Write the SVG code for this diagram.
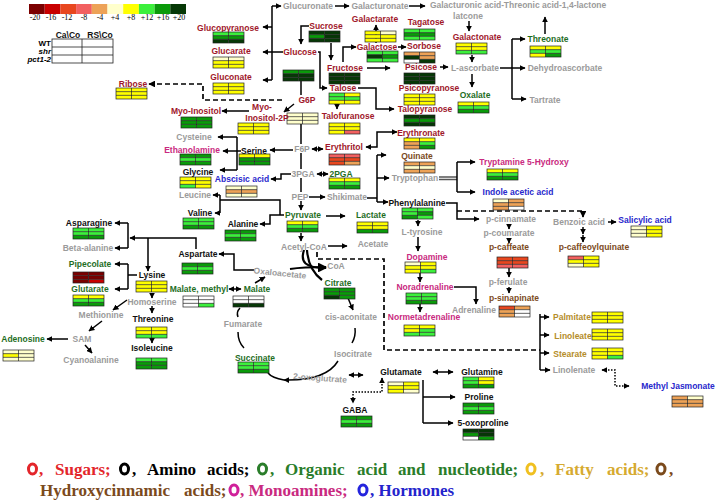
<svg xmlns="http://www.w3.org/2000/svg" width="716" height="501" viewBox="0 0 716 501">
<style>
.t{font-family:"Liberation Sans",Arial,Helvetica,sans-serif;font-size:8.5px;font-weight:bold;text-anchor:middle}
.s{fill:#a0172b}.gy{fill:#9b9b9b}.o{fill:#1f6e1f}.a{fill:#111}.m{fill:#c92a80}.h{fill:#2828cc}.b{fill:#7b4a1c}.f{fill:#b58d2a}
.kdr{fill:#7b0000}.kr{fill:#c80000}.kor{fill:#e8471f}.ksr{fill:#f26060}.ko{fill:#eda257}.kc{fill:#ffffcc}.ky{fill:#ffff00}.klg{fill:#3cf03c}.kg{fill:#0a9a0a}.kdg{fill:#063806}.kw{fill:#ffffff}
.ln{fill:none;stroke:#000;stroke-width:1.5}
.ar{marker-end:url(#ah)}
.ar2{marker-start:url(#ah);marker-end:url(#ah)}
.ds{stroke-dasharray:5 3;stroke-width:1.7}
.dt{stroke-dasharray:1.5 1.5}
.cv{stroke-width:2.2}
.lg{font-family:"Liberation Serif","Times New Roman",serif;font-size:17px;font-weight:bold}
.rg{fill:none;stroke-width:3}
.sc{font-family:"Liberation Serif","Times New Roman",serif;font-size:8px;text-anchor:middle;fill:#000}
.rl{font-family:"Liberation Sans",Arial,sans-serif;font-size:8px;font-weight:bold;text-anchor:end}
</style>
<defs>
<marker id="ah" viewBox="0 0 10 10" refX="9" refY="5" markerWidth="4" markerHeight="4" orient="auto-start-reverse"><path d="M0,0L10,5L0,10z" fill="#000"/></marker>
<rect id="c1" x="0" y="0" width="15.5" height="3.67"/>
<rect id="c2" x="15.5" y="0" width="15.5" height="3.67"/>
<rect id="c3" x="0" y="3.67" width="15.5" height="3.67"/>
<rect id="c4" x="15.5" y="3.67" width="15.5" height="3.67"/>
<rect id="c5" x="0" y="7.33" width="15.5" height="3.67"/>
<rect id="c6" x="15.5" y="7.33" width="15.5" height="3.67"/>
<g id="fr" fill="none" stroke="#222" stroke-width="0.7"><rect width="31" height="11"/><path d="M15.5,0V11M0,3.67H31M0,7.33H31"/></g>
</defs>
<rect width="716" height="501" fill="#fff"/>

<g id="scale">
<rect x="29" y="4" width="15.7" height="10" class="kdr"/>
<rect x="44.7" y="4" width="15.7" height="10" class="kr"/>
<rect x="60.4" y="4" width="15.7" height="10" class="kor"/>
<rect x="76.1" y="4" width="15.7" height="10" class="ksr"/>
<rect x="91.8" y="4" width="15.7" height="10" class="ko"/>
<rect x="107.5" y="4" width="15.7" height="10" class="kc"/>
<rect x="123.2" y="4" width="15.7" height="10" class="ky"/>
<rect x="138.9" y="4" width="15.7" height="10" class="klg"/>
<rect x="154.6" y="4" width="15.7" height="10" class="kg"/>
<rect x="170.3" y="4" width="15.7" height="10" class="kdg"/>
<text class="sc" x="35" y="20">-20</text><text class="sc" x="51" y="20">-16</text><text class="sc" x="67" y="20">-12</text><text class="sc" x="84" y="20">-8</text><text class="sc" x="100" y="20">-4</text><text class="sc" x="115" y="20">+4</text><text class="sc" x="131" y="20">+8</text><text class="sc" x="147" y="20">+12</text><text class="sc" x="163" y="20">+16</text><text class="sc" x="179" y="20">+20</text>
</g>

<g id="legend-table">
<text class="t a" x="68" y="37.5">Ca\Co</text>
<text class="t a" x="100" y="37.5">RS\Co</text>
<rect x="52" y="39" width="61" height="24" fill="none" stroke="#222" stroke-width="0.8"/>
<path d="M82,39V63M52,47H113M52,55H113" stroke="#222" stroke-width="0.8" fill="none"/>
<text class="rl" x="51" y="46">WT</text>
<text class="rl" x="51" y="54" font-style="italic">shr</text>
<text class="rl" x="51" y="62" font-style="italic">pct1-2</text>
</g>

<g id="connectors">
<path class="ln" d="M272,6V80M283,52H272"/>
<path class="ln ar" d="M272,6H281"/>
<path class="ln ar" d="M272,27H263"/>
<path class="ln ar" d="M272,52H263"/>
<path class="ln ar" d="M272,80H263"/>
<path class="ln ar" d="M335,6H349"/>
<path class="ln ar" d="M409,6H425"/>
<path class="ln ar" d="M469,21V31"/>
<path class="ln ar" d="M472,55V62"/>
<path class="ln ar" d="M472,74V87"/>
<path class="ln ar" d="M545,34V17"/>
<path class="ln" d="M500,68H512M512,39V99"/>
<path class="ln ar" d="M512,39H525"/>
<path class="ln ar" d="M512,68H525"/>
<path class="ln ar" d="M512,99H526"/>
<path class="ln ar" d="M309,26H301V44"/>
<path class="ln ar" d="M331,43V60"/>
<path class="ln ar" d="M318,52H320V88H327"/>
<path class="ln ar" d="M343,62V47H356"/>
<path class="ln ar" d="M376,43V25"/>
<path class="ln ar" d="M398,47H406"/>
<path class="ln ar" d="M367,68H390"/>
<path class="ln ar" d="M440,67H448"/>
<path class="ln ar" d="M337,103V109"/>
<path class="ln ar" d="M358,88H376V109H394"/>
<path class="ln" d="M301,80V95"/>
<path class="ln ds ar" d="M282,100H203V84H149"/>
<path class="ln ar" d="M294,104L284,112"/>
<path class="ln ar" d="M249,111H222"/>
<path class="ln" d="M301,123V144"/>
<path class="ln ar" d="M293,150H270"/>
<path class="ln" d="M241,151H237M237,137V170"/>
<path class="ln ar" d="M237,137H218"/>
<path class="ln ar" d="M237,151H223"/>
<path class="ln ar" d="M237,170H220"/>
<path class="ln ar2" d="M312,149H323"/>
<path class="ln ar2" d="M366,147H377V132H397"/>
<path class="ln" d="M301,153V169"/>
<path class="ln ar" d="M291,174H281V179H271"/>
<path class="ln ar2" d="M317,174H328"/>
<path class="ln" d="M301,178V192"/>
<path class="ln ar" d="M309,197H325"/>
<path class="ln" d="M367,198H377M377,155V202"/>
<path class="ln ar" d="M377,155H386"/>
<path class="ln ar" d="M377,178H389"/>
<path class="ln ar" d="M377,202H388"/>
<path d="M439,177H457M439,179.5H457" stroke="#555" stroke-width="1.3" fill="none"/>
<path class="ln" d="M457,162V192"/>
<path class="ln ar" d="M457,162H475"/>
<path class="ln ar" d="M457,192H475"/>
<path class="ln ar" d="M446,203H457V219H479"/>
<path class="ln ds ar" d="M457,211H583V217"/>
<path class="ln ar" d="M509,224V229"/>
<path class="ln ar" d="M509,238V243"/>
<path class="ln ar" d="M509,268V277"/>
<path class="ln ar" d="M509,287V293"/>
<path class="ln ar" d="M608,222H616"/>
<path class="ln ar" d="M583,227V234"/>
<path class="ln ar" d="M583,235V242"/>
<path class="ln ar" d="M418,220V226"/>
<path class="ln ar" d="M418,237V251"/>
<path class="ln ar" d="M420,273V282"/>
<path class="ln ar" d="M420,304V312"/>
<path class="ln ar" d="M454,287H476V304"/>
<path class="ln ar" d="M301,201V210"/>
<path class="ln ar" d="M326,216H345"/>
<path class="ln ar" d="M284,215H270V224H260"/>
<path class="ln" d="M280,215V200H220M220,195V213"/>
<path class="ln ar" d="M220,195H213"/>
<path class="ln ar" d="M220,213H215"/>
<path class="ln ar" d="M301,233V241"/>
<path class="ln ar" d="M328,246H347"/>
<path class="ln ds" d="M317,252V259H384V350H540"/>
<path class="ln" d="M540,314V370"/>
<path class="ln ar" d="M540,317H549"/>
<path class="ln ar" d="M540,335H549"/>
<path class="ln ar" d="M540,353H549"/>
<path class="ln ar" d="M540,370H550"/>
<path class="ln dt ar2" d="M602,370H615V386H629"/>
<path class="ln ar" d="M196,249V238H130"/>
<path class="ln ar" d="M148,238V271"/>
<path class="ln" d="M128,223V248"/>
<path class="ln ar" d="M128,223H115"/>
<path class="ln ar" d="M128,248H115"/>
<path class="ln" d="M137,275H128M128,264V289"/>
<path class="ln ar" d="M128,264H115"/>
<path class="ln ar" d="M128,289H115"/>
<path class="ln ar" d="M152,293V298"/>
<path class="ln ar" d="M152,306V313"/>
<path class="ln ar" d="M152,338V343"/>
<path class="ln ar" d="M127,300L113,310"/>
<path class="ln ar" d="M102,321L89,331"/>
<path class="ln ar" d="M68,339H47"/>
<path class="ln ar" d="M85,345L92,353"/>
<path class="ln ar" d="M254,270H234V254H219"/>
<path class="ln ar2" d="M229,289H241"/>
<path class="ln ar" d="M255,283L265,277"/>
<path class="ln" d="M240,308Q236,312 238,317"/>
<path class="ln" d="M238,332Q238,342 244,348"/>
<path class="ln cv ar" d="M304,250C300,262 305,268 326,268"/>
<path class="ln cv" d="M307,250C308,265 314,274 322,280"/>
<path class="ln cv ar" d="M290,269C303,267 313,267 326,267"/>
<path class="ln ar" d="M348,298L353,310"/>
<path class="ln" d="M355,328Q356,336 352,343"/>
<path class="ln ar" d="M338,361Q326,381 284,380"/>
<path class="ln" d="M284,380Q272,378 268,373"/>
<path class="ln ar2" d="M349,375H363"/>
<path class="ln ar2" d="M433,372H453"/>
<path class="ln" d="M423,380V423"/>
<path class="ln ar" d="M423,397H455"/>
<path class="ln ar" d="M423,423H453"/>
<path class="ln dt ar2" d="M382,378V392H353V403"/>
</g>

<g id="n-glucopyranose"><text class="t s" x="228" y="31">Glucopyranose</text><g transform="translate(213,32)"><use href="#c1" class="klg"/><use href="#c2" class="klg"/><use href="#c3" class="kg"/><use href="#c4" class="kg"/><use href="#c5" class="kdg"/><use href="#c6" class="kdg"/><use href="#fr"/></g></g>
<g id="n-glucarate"><text class="t s" x="231" y="54">Glucarate</text><g transform="translate(213,57)"><use href="#c1" class="kc"/><use href="#c2" class="kc"/><use href="#c3" class="ky"/><use href="#c4" class="ky"/><use href="#c5" class="ky"/><use href="#c6" class="ky"/><use href="#fr"/></g></g>
<g id="n-gluconate"><text class="t s" x="231" y="80">Gluconate</text><g transform="translate(213,83)"><use href="#c1" class="ky"/><use href="#c2" class="ky"/><use href="#c3" class="ky"/><use href="#c4" class="ky"/><use href="#c5" class="ky"/><use href="#c6" class="ky"/><use href="#fr"/></g></g>
<g id="n-ribose"><text class="t s" x="133" y="87">Ribose</text><g transform="translate(116,88)"><use href="#c1" class="ky"/><use href="#c2" class="ky"/><use href="#c3" class="ky"/><use href="#c4" class="ky"/><use href="#c5" class="ky"/><use href="#c6" class="ky"/><use href="#fr"/></g></g>
<g id="n-myoinositol"><text class="t s" x="196" y="114">Myo-Inositol</text><g transform="translate(181,117)"><use href="#c1" class="kg"/><use href="#c2" class="kg"/><use href="#c3" class="kg"/><use href="#c4" class="kg"/><use href="#c5" class="kg"/><use href="#c6" class="kg"/><use href="#fr"/></g></g>
<g id="n-sucrose"><text class="t s" x="326" y="29">Sucrose</text><g transform="translate(309,31)"><use href="#c1" class="kdg"/><use href="#c2" class="kdg"/><use href="#c3" class="kg"/><use href="#c4" class="kdg"/><use href="#c5" class="kdg"/><use href="#c6" class="kdg"/><use href="#fr"/></g></g>
<g id="n-glucose"><text class="t s" x="300" y="55">Glucose</text><g transform="translate(283,70)"><use href="#c1" class="kg"/><use href="#c2" class="kg"/><use href="#c3" class="kdg"/><use href="#c4" class="kdg"/><use href="#c5" class="kdg"/><use href="#c6" class="kdg"/><use href="#fr"/></g></g>
<g id="n-fructose"><text class="t s" x="345" y="71">Fructose</text><g transform="translate(329,73)"><use href="#c1" class="kdg"/><use href="#c2" class="kdg"/><use href="#c3" class="kdg"/><use href="#c4" class="kdg"/><use href="#c5" class="kdg"/><use href="#c6" class="kdg"/><use href="#fr"/></g></g>
<g id="n-galactarate"><text class="t s" x="375" y="22">Galactarate</text><g transform="translate(365,31)"><use href="#c1" class="ky"/><use href="#c2" class="kc"/><use href="#c3" class="ky"/><use href="#c4" class="ky"/><use href="#c5" class="ky"/><use href="#c6" class="ky"/><use href="#fr"/></g></g>
<g id="n-tagatose"><text class="t s" x="426" y="25">Tagatose</text><g transform="translate(404,29)"><use href="#c1" class="klg"/><use href="#c2" class="klg"/><use href="#c3" class="kg"/><use href="#c4" class="kg"/><use href="#c5" class="klg"/><use href="#c6" class="klg"/><use href="#fr"/></g></g>
<g id="n-galactose"><text class="t s" x="377" y="50">Galactose</text><g transform="translate(367,51)"><use href="#c1" class="klg"/><use href="#c2" class="klg"/><use href="#c3" class="kdg"/><use href="#c4" class="kg"/><use href="#c5" class="klg"/><use href="#c6" class="klg"/><use href="#fr"/></g></g>
<g id="n-sorbose"><text class="t s" x="424" y="49">Sorbose</text><g transform="translate(404,52)"><use href="#c1" class="ko"/><use href="#c2" class="ko"/><use href="#c3" class="kdg"/><use href="#c4" class="ko"/><use href="#c5" class="kw"/><use href="#c6" class="kdg"/><use href="#fr"/></g></g>
<g id="n-psicose"><text class="t s" x="421" y="70">Psicose</text><g transform="translate(404,73)"><use href="#c1" class="kdg"/><use href="#c2" class="kdg"/><use href="#c3" class="kdg"/><use href="#c4" class="kdg"/><use href="#c5" class="kdg"/><use href="#c6" class="kdg"/><use href="#fr"/></g></g>
<g id="n-psicopyranose"><text class="t s" x="429" y="91">Psicopyranose</text><g transform="translate(404,94)"><use href="#c1" class="ky"/><use href="#c2" class="ky"/><use href="#c3" class="ky"/><use href="#c4" class="ky"/><use href="#c5" class="ky"/><use href="#c6" class="ky"/><use href="#fr"/></g></g>
<g id="n-talose"><text class="t s" x="343" y="91">Talose</text><g transform="translate(329,93)"><use href="#c1" class="klg"/><use href="#c2" class="ky"/><use href="#c3" class="klg"/><use href="#c4" class="klg"/><use href="#c5" class="ky"/><use href="#c6" class="ky"/><use href="#fr"/></g></g>
<g id="n-talofuranose"><text class="t s" x="348" y="119">Talofuranose</text><g transform="translate(329,123)"><use href="#c1" class="ky"/><use href="#c2" class="ky"/><use href="#c3" class="ky"/><use href="#c4" class="ky"/><use href="#c5" class="ky"/><use href="#c6" class="ksr"/><use href="#fr"/></g></g>
<g id="n-talopyranose"><text class="t s" x="425" y="112">Talopyranose</text><g transform="translate(404,115)"><use href="#c1" class="kdg"/><use href="#c2" class="kdg"/><use href="#c3" class="kg"/><use href="#c4" class="kg"/><use href="#c5" class="kdg"/><use href="#c6" class="kdg"/><use href="#fr"/></g></g>
<g id="n-g6p"><text class="t s" x="307" y="103">G6P</text><g transform="translate(287,113)"><use href="#c1" class="kc"/><use href="#c2" class="kc"/><use href="#c3" class="kc"/><use href="#c4" class="kc"/><use href="#c5" class="kc"/><use href="#c6" class="kc"/><use href="#fr"/></g></g>
<g id="n-myoinositol2p"><text class="t s" x="262" y="110">Myo-</text><text class="t s" x="267" y="121">Inositol-2P</text><g transform="translate(238,123)"><use href="#c1" class="ky"/><use href="#c2" class="ky"/><use href="#c3" class="ky"/><use href="#c4" class="ky"/><use href="#c5" class="ky"/><use href="#c6" class="ky"/><use href="#fr"/></g></g>
<g id="n-glucuronate"><text class="t gy" x="308" y="9">Glucuronate</text></g>
<g id="n-galacturonate"><text class="t gy" x="380" y="9">Galacturonate</text></g>
<g id="n-galacturonic"><text class="t gy" x="467" y="8">Galacturonic acid-</text><text class="t gy" x="468" y="19">latcone</text></g>
<g id="n-threoniclactone"><text class="t gy" x="555" y="8">Threonic acid-1,4-lactone</text></g>
<g id="n-galactonate"><text class="t s" x="477" y="40">Galactonate</text><g transform="translate(456,43)"><use href="#c1" class="ky"/><use href="#c2" class="ky"/><use href="#c3" class="ky"/><use href="#c4" class="ky"/><use href="#c5" class="klg"/><use href="#c6" class="klg"/><use href="#fr"/></g></g>
<g id="n-lascorbate"><text class="t gy" x="475" y="71">L-ascorbate</text></g>
<g id="n-oxalate"><text class="t o" x="475" y="98">Oxalate</text><g transform="translate(458,102)"><use href="#c1" class="ky"/><use href="#c2" class="ky"/><use href="#c3" class="klg"/><use href="#c4" class="klg"/><use href="#c5" class="kg"/><use href="#c6" class="kg"/><use href="#fr"/></g></g>
<g id="n-threonate"><text class="t o" x="548" y="42">Threonate</text><g transform="translate(530,46)"><use href="#c1" class="ky"/><use href="#c2" class="ky"/><use href="#c3" class="klg"/><use href="#c4" class="klg"/><use href="#c5" class="ky"/><use href="#c6" class="kg"/><use href="#fr"/></g></g>
<g id="n-dehydroascorbate"><text class="t gy" x="565" y="71">Dehydroascorbate</text></g>
<g id="n-tartrate"><text class="t gy" x="545" y="103">Tartrate</text></g>
<g id="n-cysteine"><text class="t gy" x="194" y="140">Cysteine</text></g>
<g id="n-f6p"><text class="t gy" x="302" y="152">F6P</text></g>
<g id="n-3pga"><text class="t gy" x="303" y="177">3PGA</text></g>
<g id="n-pep"><text class="t gy" x="300" y="200">PEP</text></g>
<g id="n-shikimate"><text class="t gy" x="347" y="200">Shikimate</text></g>
<g id="n-tryptophan"><text class="t gy" x="415" y="181">Tryptophan</text></g>
<g id="n-leucine"><text class="t gy" x="195" y="198">Leucine</text></g>
<g id="n-betaalanine"><text class="t gy" x="88" y="251">Beta-alanine</text></g>
<g id="n-ltyrosine"><text class="t gy" x="422" y="235">L-tyrosine</text></g>
<g id="n-acetylcoa"><text class="t gy" x="304" y="250">Acetyl-CoA</text></g>
<g id="n-acetate"><text class="t gy" x="373" y="247">Acetate</text></g>
<g id="n-pcinnamate"><text class="t gy" x="511" y="222">p-cinnamate</text></g>
<g id="n-pcoumarate"><text class="t gy" x="509" y="236">p-coumarate</text></g>
<g id="n-benzoic"><text class="t gy" x="579" y="225">Benzoic acid</text></g>
<g id="n-pferulate"><text class="t gy" x="508" y="285">p-ferulate</text></g>
<g id="n-adrenaline"><text class="t gy" x="474" y="313">Adrenaline</text></g>
<g id="n-oxaloacetate"><text class="t gy" x="280" y="276" transform="rotate(6,280,273)">Oxaloacetate</text></g>
<g id="n-coa"><text class="t gy" x="336" y="269">CoA</text></g>
<g id="n-homoserine"><text class="t gy" x="152" y="305">Homoserine</text></g>
<g id="n-methionine"><text class="t gy" x="101" y="318">Methionine</text></g>
<g id="n-sam"><text class="t gy" x="82" y="342">SAM</text></g>
<g id="n-cyanoalanine"><text class="t gy" x="91" y="363">Cyanoalanine</text></g>
<g id="n-fumarate"><text class="t gy" x="243" y="327">Fumarate</text></g>
<g id="n-cisaconitate"><text class="t gy" x="351" y="320">cis-aconitate</text></g>
<g id="n-isocitrate"><text class="t gy" x="353" y="357">Isocitrate</text></g>
<g id="n-oxoglutrate"><text class="t gy" x="320" y="381" transform="rotate(4,320,378)">2-oxoglutrate</text></g>
<g id="n-linolenate"><text class="t gy" x="574" y="373">Linolenate</text></g>
<g id="n-serine"><text class="t a" x="254" y="154">Serine</text><g transform="translate(239,154)"><use href="#c1" class="ky"/><use href="#c2" class="ky"/><use href="#c3" class="kg"/><use href="#c4" class="kg"/><use href="#c5" class="kg"/><use href="#c6" class="kg"/><use href="#fr"/></g></g>
<g id="n-erythritol"><text class="t s" x="344" y="150">Erythritol</text><g transform="translate(329,154)"><use href="#c1" class="ksr"/><use href="#c2" class="ksr"/><use href="#c3" class="kor"/><use href="#c4" class="kor"/><use href="#c5" class="kor"/><use href="#c6" class="ko"/><use href="#fr"/></g></g>
<g id="n-erythronate"><text class="t s" x="421" y="136">Erythronate</text><g transform="translate(404,138)"><use href="#c1" class="ky"/><use href="#c2" class="ky"/><use href="#c3" class="ko"/><use href="#c4" class="klg"/><use href="#c5" class="ko"/><use href="#c6" class="kg"/><use href="#fr"/></g></g>
<g id="n-quinate"><text class="t b" x="417" y="159">Quinate</text><g transform="translate(404,162)"><use href="#c1" class="ko"/><use href="#c2" class="ko"/><use href="#c3" class="kc"/><use href="#c4" class="kc"/><use href="#c5" class="ko"/><use href="#c6" class="ko"/><use href="#fr"/></g></g>
<g id="n-2pga"><text class="t o" x="341" y="177">2PGA</text><g transform="translate(329,178)"><use href="#c1" class="ky"/><use href="#c2" class="ky"/><use href="#c3" class="klg"/><use href="#c4" class="klg"/><use href="#c5" class="kg"/><use href="#c6" class="kg"/><use href="#fr"/></g></g>
<g id="n-ethanolamine"><text class="t m" x="192" y="153">Ethanolamine</text><g transform="translate(180,154)"><use href="#c1" class="kg"/><use href="#c2" class="kg"/><use href="#c3" class="klg"/><use href="#c4" class="klg"/><use href="#c5" class="kg"/><use href="#c6" class="kg"/><use href="#fr"/></g></g>
<g id="n-glycine"><text class="t a" x="198" y="175">Glycine</text><g transform="translate(180,177)"><use href="#c1" class="ky"/><use href="#c2" class="ky"/><use href="#c3" class="ky"/><use href="#c4" class="ky"/><use href="#c5" class="klg"/><use href="#c6" class="ky"/><use href="#fr"/></g></g>
<g id="n-abscisic"><text class="t h" x="242" y="182">Abscisic acid</text><g transform="translate(226,186)"><use href="#c1" class="kc"/><use href="#c2" class="kc"/><use href="#c3" class="ko"/><use href="#c4" class="ko"/><use href="#c5" class="kc"/><use href="#c6" class="kc"/><use href="#fr"/></g></g>
<g id="n-valine"><text class="t a" x="200" y="216">Valine</text><g transform="translate(183,218)"><use href="#c1" class="klg"/><use href="#c2" class="klg"/><use href="#c3" class="klg"/><use href="#c4" class="klg"/><use href="#c5" class="kg"/><use href="#c6" class="kg"/><use href="#fr"/></g></g>
<g id="n-alanine"><text class="t a" x="243" y="227">Alanine</text><g transform="translate(225,230)"><use href="#c1" class="kg"/><use href="#c2" class="kg"/><use href="#c3" class="klg"/><use href="#c4" class="klg"/><use href="#c5" class="kg"/><use href="#c6" class="kg"/><use href="#fr"/></g></g>
<g id="n-asparagine"><text class="t a" x="89" y="226">Asparagine</text><g transform="translate(73,228)"><use href="#c1" class="klg"/><use href="#c2" class="klg"/><use href="#c3" class="klg"/><use href="#c4" class="klg"/><use href="#c5" class="kg"/><use href="#c6" class="kg"/><use href="#fr"/></g></g>
<g id="n-pyruvate"><text class="t o" x="303" y="218">Pyruvate</text><g transform="translate(287,221)"><use href="#c1" class="ky"/><use href="#c2" class="ky"/><use href="#c3" class="klg"/><use href="#c4" class="klg"/><use href="#c5" class="kg"/><use href="#c6" class="kg"/><use href="#fr"/></g></g>
<g id="n-lactate"><text class="t o" x="371" y="218">Lactate</text><g transform="translate(357,222)"><use href="#c1" class="ky"/><use href="#c2" class="ky"/><use href="#c3" class="ky"/><use href="#c4" class="ky"/><use href="#c5" class="kg"/><use href="#c6" class="kg"/><use href="#fr"/></g></g>
<g id="n-phenylalanine"><text class="t a" x="417" y="206">Phenylalanine</text><g transform="translate(402,208)"><use href="#c1" class="klg"/><use href="#c2" class="klg"/><use href="#c3" class="klg"/><use href="#c4" class="kg"/><use href="#c5" class="kg"/><use href="#c6" class="klg"/><use href="#fr"/></g></g>
<g id="n-tryptamine"><text class="t m" x="524" y="165">Tryptamine 5-Hydroxy</text><g transform="translate(487,169)"><use href="#c1" class="ky"/><use href="#c2" class="ky"/><use href="#c3" class="klg"/><use href="#c4" class="klg"/><use href="#c5" class="kg"/><use href="#c6" class="kg"/><use href="#fr"/></g></g>
<g id="n-iaa"><text class="t h" x="518" y="195">Indole acetic acid</text><g transform="translate(493,199)"><use href="#c1" class="kc"/><use href="#c2" class="ko"/><use href="#c3" class="ko"/><use href="#c4" class="ko"/><use href="#c5" class="ko"/><use href="#c6" class="kw"/><use href="#fr"/></g></g>
<g id="n-salicylic"><text class="t h" x="645" y="223">Salicylic acid</text><g transform="translate(631,226)"><use href="#c1" class="kc"/><use href="#c2" class="ky"/><use href="#c3" class="kc"/><use href="#c4" class="ky"/><use href="#c5" class="kc"/><use href="#c6" class="ky"/><use href="#fr"/></g></g>
<g id="n-aspartate"><text class="t a" x="198" y="257">Aspartate</text><g transform="translate(182,263)"><use href="#c1" class="kg"/><use href="#c2" class="kg"/><use href="#c3" class="klg"/><use href="#c4" class="klg"/><use href="#c5" class="kg"/><use href="#c6" class="kg"/><use href="#fr"/></g></g>
<g id="n-pipecolate"><text class="t o" x="90" y="267">Pipecolate</text><g transform="translate(73,272)"><use href="#c1" class="kdr"/><use href="#c2" class="kdr"/><use href="#c3" class="kdr"/><use href="#c4" class="kdr"/><use href="#c5" class="kdr"/><use href="#c6" class="kr"/><use href="#fr"/></g></g>
<g id="n-glutarate"><text class="t o" x="90" y="292">Glutarate</text><g transform="translate(73,295)"><use href="#c1" class="ky"/><use href="#c2" class="ky"/><use href="#c3" class="klg"/><use href="#c4" class="klg"/><use href="#c5" class="kg"/><use href="#c6" class="kg"/><use href="#fr"/></g></g>
<g id="n-lysine"><text class="t a" x="152" y="278">Lysine</text><g transform="translate(136,281)"><use href="#c1" class="ky"/><use href="#c2" class="ky"/><use href="#c3" class="ky"/><use href="#c4" class="ky"/><use href="#c5" class="ky"/><use href="#c6" class="ky"/><use href="#fr"/></g></g>
<g id="n-threonine"><text class="t a" x="153" y="322">Threonine</text><g transform="translate(136,327)"><use href="#c1" class="ky"/><use href="#c2" class="ky"/><use href="#c3" class="ky"/><use href="#c4" class="ky"/><use href="#c5" class="klg"/><use href="#c6" class="klg"/><use href="#fr"/></g></g>
<g id="n-isoleucine"><text class="t a" x="152" y="351">Isoleucine</text><g transform="translate(136,358)"><use href="#c1" class="klg"/><use href="#c2" class="klg"/><use href="#c3" class="kg"/><use href="#c4" class="kg"/><use href="#c5" class="kg"/><use href="#c6" class="kg"/><use href="#fr"/></g></g>
<g id="n-malatemethyl"><text class="t o" x="199" y="292">Malate, methyl</text><g transform="translate(183,296)"><use href="#c1" class="kw"/><use href="#c2" class="kw"/><use href="#c3" class="kw"/><use href="#c4" class="kw"/><use href="#c5" class="kw"/><use href="#c6" class="klg"/><use href="#fr"/></g></g>
<g id="n-malate"><text class="t o" x="257" y="292">Malate</text><g transform="translate(233,296)"><use href="#c1" class="kw"/><use href="#c2" class="kw"/><use href="#c3" class="kw"/><use href="#c4" class="kw"/><use href="#c5" class="kdg"/><use href="#c6" class="kdg"/><use href="#fr"/></g></g>
<g id="n-adenosine"><text class="t o" x="23" y="342">Adenosine</text><g transform="translate(3,350)"><use href="#c1" class="kc"/><use href="#c2" class="kc"/><use href="#c3" class="ky"/><use href="#c4" class="kc"/><use href="#c5" class="kc"/><use href="#c6" class="kc"/><use href="#fr"/></g></g>
<g id="n-citrate"><text class="t o" x="338" y="286">Citrate</text><g transform="translate(324,288)"><use href="#c1" class="kg"/><use href="#c2" class="kg"/><use href="#c3" class="kg"/><use href="#c4" class="kg"/><use href="#c5" class="kdg"/><use href="#c6" class="kg"/><use href="#fr"/></g></g>
<g id="n-dopamine"><text class="t m" x="427" y="260">Dopamine</text><g transform="translate(405,262)"><use href="#c1" class="kc"/><use href="#c2" class="ky"/><use href="#c3" class="ky"/><use href="#c4" class="ky"/><use href="#c5" class="ky"/><use href="#c6" class="klg"/><use href="#fr"/></g></g>
<g id="n-noradrenaline"><text class="t m" x="425" y="290">Noradrenaline</text><g transform="translate(406,293)"><use href="#c1" class="klg"/><use href="#c2" class="klg"/><use href="#c3" class="klg"/><use href="#c4" class="klg"/><use href="#c5" class="kg"/><use href="#c6" class="kg"/><use href="#fr"/></g></g>
<g id="n-normetadrenaline"><text class="t m" x="424" y="320">Normetadrenaline</text><g transform="translate(404,325)"><use href="#c1" class="ky"/><use href="#c2" class="ky"/><use href="#c3" class="ky"/><use href="#c4" class="klg"/><use href="#c5" class="klg"/><use href="#c6" class="klg"/><use href="#fr"/></g></g>
<g id="n-pcaffeate"><text class="t b" x="509" y="250">p-caffeate</text><g transform="translate(497,257)"><use href="#c1" class="kor"/><use href="#c2" class="kor"/><use href="#c3" class="kor"/><use href="#c4" class="kor"/><use href="#c5" class="ksr"/><use href="#c6" class="ksr"/><use href="#fr"/></g></g>
<g id="n-pcaffeoylquinate"><text class="t b" x="594" y="250">p-caffeoylquinate</text><g transform="translate(568,256)"><use href="#c1" class="ksr"/><use href="#c2" class="ky"/><use href="#c3" class="ky"/><use href="#c4" class="ky"/><use href="#c5" class="kc"/><use href="#c6" class="ky"/><use href="#fr"/></g></g>
<g id="n-psinapinate"><text class="t b" x="514" y="301">p-sinapinate</text><g transform="translate(499,306)"><use href="#c1" class="kor"/><use href="#c2" class="ko"/><use href="#c3" class="ko"/><use href="#c4" class="kw"/><use href="#c5" class="ko"/><use href="#c6" class="kw"/><use href="#fr"/></g></g>
<g id="n-palmitate"><text class="t f" x="572" y="320">Palmitate</text><g transform="translate(592,312)"><use href="#c1" class="ky"/><use href="#c2" class="ky"/><use href="#c3" class="ky"/><use href="#c4" class="ky"/><use href="#c5" class="ky"/><use href="#c6" class="ky"/><use href="#fr"/></g></g>
<g id="n-linoleate"><text class="t f" x="573" y="339">Linoleate</text><g transform="translate(592,329)"><use href="#c1" class="ky"/><use href="#c2" class="ky"/><use href="#c3" class="ky"/><use href="#c4" class="ky"/><use href="#c5" class="ky"/><use href="#c6" class="ky"/><use href="#fr"/></g></g>
<g id="n-stearate"><text class="t f" x="570" y="357">Stearate</text><g transform="translate(592,348)"><use href="#c1" class="ky"/><use href="#c2" class="ky"/><use href="#c3" class="ky"/><use href="#c4" class="ky"/><use href="#c5" class="ky"/><use href="#c6" class="klg"/><use href="#fr"/></g></g>
<g id="n-methyljasmonate"><text class="t h" x="678" y="389">Methyl Jasmonate</text><g transform="translate(672,396)"><use href="#c1" class="ko"/><use href="#c2" class="kc"/><use href="#c3" class="ko"/><use href="#c4" class="ko"/><use href="#c5" class="ko"/><use href="#c6" class="ko"/><use href="#fr"/></g></g>
<g id="n-succinate"><text class="t o" x="255" y="361">Succinate</text><g transform="translate(238,362)"><use href="#c1" class="klg"/><use href="#c2" class="klg"/><use href="#c3" class="klg"/><use href="#c4" class="klg"/><use href="#c5" class="kg"/><use href="#c6" class="kg"/><use href="#fr"/></g></g>
<g id="n-glutamate"><text class="t a" x="401" y="375">Glutamate</text><g transform="translate(388,382)"><use href="#c1" class="kc"/><use href="#c2" class="ky"/><use href="#c3" class="ky"/><use href="#c4" class="ky"/><use href="#c5" class="ky"/><use href="#c6" class="kc"/><use href="#fr"/></g></g>
<g id="n-gaba"><text class="t a" x="355" y="413">GABA</text><g transform="translate(341,416)"><use href="#c1" class="kg"/><use href="#c2" class="kg"/><use href="#c3" class="klg"/><use href="#c4" class="klg"/><use href="#c5" class="kg"/><use href="#c6" class="kg"/><use href="#fr"/></g></g>
<g id="n-glutamine"><text class="t a" x="482" y="375">Glutamine</text><g transform="translate(463,377)"><use href="#c1" class="klg"/><use href="#c2" class="ky"/><use href="#c3" class="klg"/><use href="#c4" class="ky"/><use href="#c5" class="kg"/><use href="#c6" class="kg"/><use href="#fr"/></g></g>
<g id="n-proline"><text class="t a" x="479" y="400">Proline</text><g transform="translate(463,403)"><use href="#c1" class="kg"/><use href="#c2" class="kg"/><use href="#c3" class="klg"/><use href="#c4" class="klg"/><use href="#c5" class="kg"/><use href="#c6" class="kg"/><use href="#fr"/></g></g>
<g id="n-oxoproline"><text class="t a" x="483" y="426">5-oxoproline</text><g transform="translate(463,429)"><use href="#c1" class="kdg"/><use href="#c2" class="kdg"/><use href="#c3" class="kg"/><use href="#c4" class="kdg"/><use href="#c5" class="kw"/><use href="#c6" class="kg"/><use href="#fr"/></g></g>

<g id="legend">
<ellipse cx="32.5" cy="469" rx="4" ry="5" class="rg" stroke="#e3262b"/>
<text class="lg" x="39" y="475" fill="#e3262b">,</text>
<text class="lg" x="55" y="475" fill="#e3262b">Sugars;</text>
<ellipse cx="124.5" cy="469" rx="4" ry="5" class="rg" stroke="#000"/>
<text class="lg" x="132" y="475" fill="#000">,</text>
<text class="lg" x="147" y="475" fill="#000">Amino</text>
<text class="lg" x="207" y="475" fill="#000">acids;</text>
<ellipse cx="262.5" cy="469" rx="4" ry="5" class="rg" stroke="#2a7d2a"/>
<text class="lg" x="270" y="475" fill="#2a7d2a">,</text>
<text class="lg" x="285" y="475" fill="#2a7d2a">Organic</text>
<text class="lg" x="357" y="475" fill="#2a7d2a">acid</text>
<text class="lg" x="398" y="475" fill="#2a7d2a">and</text>
<text class="lg" x="438" y="475" fill="#2a7d2a">nucleotide;</text>
<ellipse cx="531" cy="469" rx="4" ry="5" class="rg" stroke="#f0c020"/>
<text class="lg" x="540" y="475" fill="#d6aa30">,</text>
<text class="lg" x="555" y="475" fill="#d6aa30">Fatty</text>
<text class="lg" x="607" y="475" fill="#d6aa30">acids;</text>
<ellipse cx="661" cy="469" rx="4" ry="5" class="rg" stroke="#7b4a1c"/>
<text class="lg" x="669" y="475" fill="#7b4a1c">,</text>
<text class="lg" x="40" y="496" fill="#7b4a1c">Hydroxycinnamic</text>
<text class="lg" x="184" y="496" fill="#7b4a1c">acids;</text>
<ellipse cx="234" cy="490" rx="4" ry="5" class="rg" stroke="#d0209a"/>
<text class="lg" x="240" y="496" fill="#c92a80">, Monoamines;</text>
<ellipse cx="363" cy="490" rx="4" ry="5" class="rg" stroke="#2424dd"/>
<text class="lg" x="370" y="496" fill="#2424cc">, Hormones</text>
</g>
</svg>
